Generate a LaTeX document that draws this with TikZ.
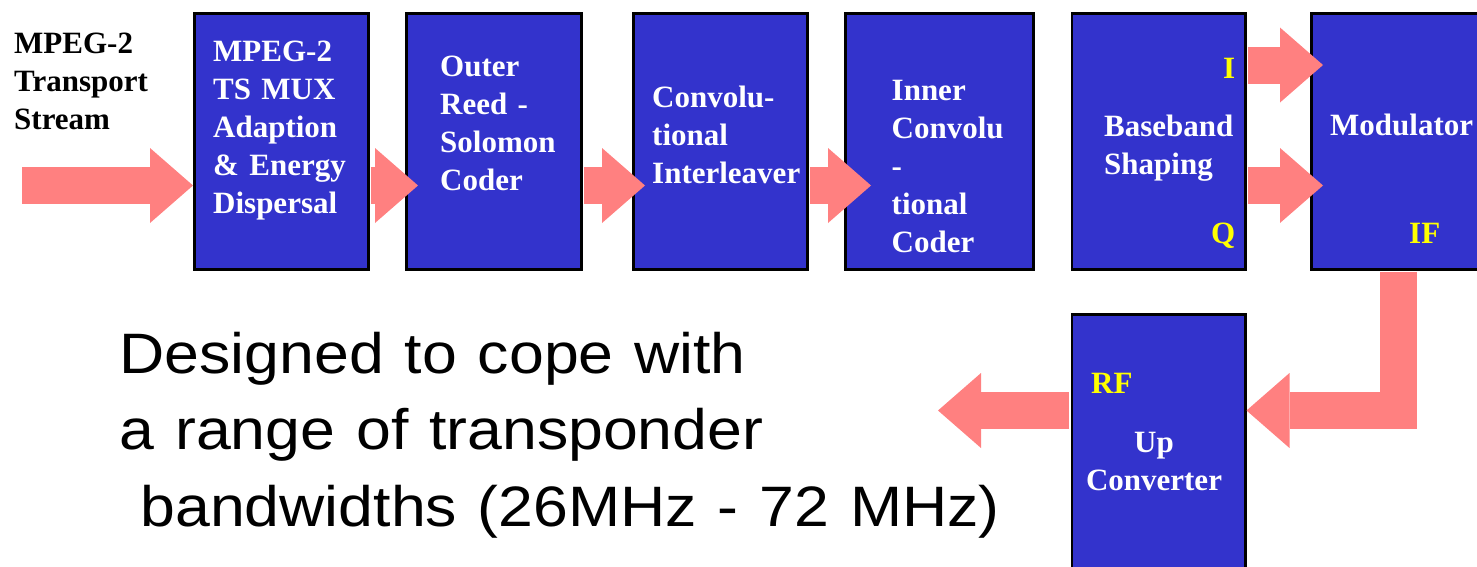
\documentclass[tikz,border=0pt]{standalone}
\usepackage{fontspec}
\setmainfont{Liberation Serif}
\newfontfamily\sansfont{Liberation Sans}
\usepackage{graphicx}
\usetikzlibrary{arrows.meta,calc}
\definecolor{boxblue}{HTML}{3333CC}
\definecolor{arrowpink}{HTML}{FF8080}
\definecolor{lblyellow}{HTML}{FFFF00}
\newcommand{\wide}[1]{\scalebox{1.098}[1]{#1}}
\begin{document}
\begin{tikzpicture}[x=1pt,y=-1pt,
  blk/.style={draw=black, line width=2.5pt, fill=boxblue, inner sep=0pt, anchor=north west},
  fat/.style={draw=arrowpink, line width=37pt, line join=miter, shorten <=1.3pt,
              -{Triangle[length=43pt,width=75pt,line width=0pt]}},
  btxt/.style={text=white, font=\bfseries\fontsize{31}{38}\selectfont, anchor=base west,
               inner sep=0pt, align=left, text width=190pt},
  ytxt/.style={text=lblyellow, font=\bfseries\fontsize{31}{38}\selectfont, anchor=base west, inner sep=0pt},
]
\useasboundingbox (0,0) rectangle (1477,566);
\fill[white] (0,0) rectangle (1477,566);

% processing blocks
\node[blk, minimum width=174pt, minimum height=256pt] (b1) at (193,12) {};
\node[blk, minimum width=175pt, minimum height=256pt] (b2) at (405,12) {};
\node[blk, minimum width=174pt, minimum height=256pt] (b3) at (632,12) {};
\node[blk, minimum width=188pt, minimum height=256pt] (b4) at (844,12) {};
\node[blk, minimum width=173.5pt, minimum height=256pt] (b5) at (1070.5,12) {};
\node[blk, minimum width=220pt, minimum height=256pt] (b6) at (1310,12) {};
\node[blk, minimum width=173.5pt, minimum height=300pt] (b7) at (1070.5,313) {};

% signal flow
\coordinate (src) at (21,185.5);
\coordinate (ipath) at (0,65);
\coordinate (ifturn) at (1398.5,410.5);
\coordinate (rfout) at (938,410.5);
\draw[fat] (src) -- (b1.west |- src);
\draw[fat] (b1.east |- src) -- ($(b2.west |- src)+(13,0)$);
\draw[fat] (b2.east |- src) -- ($(b3.west |- src)+(13,0)$);
\draw[fat] (b3.east |- src) -- ($(b4.west |- src)+(27,0)$);
\draw[fat] (b5.east |- ipath) -- ($(b6.west |- ipath)+(13,0)$);
\draw[fat] (b5.east |- src) -- ($(b6.west |- src)+(13,0)$);
\draw[fat] (b6.south -| ifturn) -- (ifturn) -- (b7.east |- ifturn);
\draw[fat] (b7.west |- rfout) -- (rfout);

% block labels
\node[btxt, text=black] (tin) at (14,53) {MPEG-2\\Transport\\Stream};
\node[btxt] (t1) at (213,61) {MPEG-2\\TS MUX\\Adaption\\\& Energy\\Dispersal};
\node[btxt] (t2) at (440,76) {Outer\\Reed -\\Solomon\\Coder};
\node[btxt] (t3) at (652,107) {Convolu-\\tional\\Interleaver};
\node[btxt] (t4) at (891.5,100) {Inner\\Convolu\\-\\tional\\Coder};
\node[btxt] (t5) at (1104,136) {Baseband\\Shaping};
\node[btxt] (t6) at (1330,135) {Modulator};
\node[btxt, align=center, text width=174pt, anchor=base] (t7) at (1154,452) {Up\\Converter};

% port labels
\node[ytxt] (li) at (1223,78) {I};
\node[ytxt] (lq) at (1211,243) {Q};
\node[ytxt] (lif) at (1409,243) {IF};
\node[ytxt] (lrf) at (1091,393) {RF};

% caption
\node[anchor=base west, inner sep=0pt, align=left, text width=1000pt,
      font=\sansfont\fontsize{57}{76.5}\selectfont] (caption) at (119.5,373)
  {\wide{Designed to cope with}\\
   \wide{a range of transponder}\\
   \wide{~bandwidths (26MHz - 72 MHz)}};
\end{tikzpicture}
\end{document}
